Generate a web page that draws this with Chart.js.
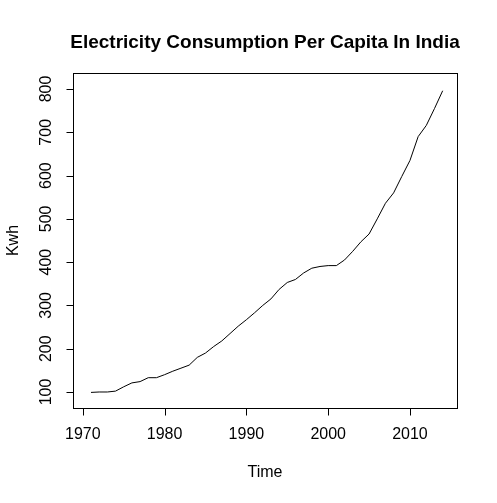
<!DOCTYPE html>
<html>
<head>
<meta charset="utf-8">
<script src="https://cdn.jsdelivr.net/npm/chart.js@4"></script>
<style>
  html, body { margin: 0; padding: 0; background: #fff; }
  #wrap { width: 497px; height: 503px; }
</style>
</head>
<body>
<div id="wrap"><canvas id="chart"></canvas></div>
<script>
const years = [1971,1972,1973,1974,1975,1976,1977,1978,1979,1980,1981,1982,1983,1984,1985,1986,1987,1988,1989,1990,1991,1992,1993,1994,1995,1996,1997,1998,1999,2000,2001,2002,2003,2004,2005,2006,2007,2008,2009,2010,2011,2012,2013,2014];
const kwh = [99,100,100,102,112,121,124,133,133,140,148,155,162,180,190,205,218,235,252,267,283,300,315,337,353,360,375,386,390,392,392,405,425,447,465,500,536,560,598,635,690,716,755,796];
const xTicks = [1970, 1980, 1990, 2000, 2010];
const yTicks = [100, 200, 300, 400, 500, 600, 700, 800];

const font = '"Liberation Sans", Arial, sans-serif';

const rAxes = {
    id: 'rAxes',
    afterDraw(chart) {
        const { ctx, chartArea: a, scales: { x, y } } = chart;
        ctx.save();
        ctx.strokeStyle = '#000';
        ctx.lineWidth = 1;
        ctx.strokeRect(a.left + 0.5, a.top + 0.5, a.right - a.left, a.bottom - a.top);
        ctx.fillStyle = '#000';
        ctx.font = '16px ' + font;

        // x axis
        const xb = a.bottom + 0.5;
        ctx.beginPath();
        ctx.moveTo(x.getPixelForValue(xTicks[0]), xb);
        ctx.lineTo(x.getPixelForValue(xTicks[xTicks.length - 1]), xb);
        xTicks.forEach(t => {
            const px = Math.round(x.getPixelForValue(t)) + 0.5;
            ctx.moveTo(px, xb);
            ctx.lineTo(px, xb + 7);
        });
        ctx.stroke();
        ctx.textAlign = 'center';
        ctx.textBaseline = 'top';
        xTicks.forEach(t => ctx.fillText(String(t), x.getPixelForValue(t), a.bottom + 19));

        // y axis
        const yl = a.left + 0.5;
        ctx.beginPath();
        ctx.moveTo(yl, y.getPixelForValue(yTicks[0]));
        ctx.lineTo(yl, y.getPixelForValue(yTicks[yTicks.length - 1]));
        yTicks.forEach(t => {
            const py = Math.round(y.getPixelForValue(t)) + 0.5;
            ctx.moveTo(yl, py);
            ctx.lineTo(yl - 7, py);
        });
        ctx.stroke();
        yTicks.forEach(t => {
            ctx.save();
            ctx.translate(a.left - 18, y.getPixelForValue(t));
            ctx.rotate(-Math.PI / 2);
            ctx.textAlign = 'center';
            ctx.textBaseline = 'bottom';
            ctx.fillText(String(t), 0, 0);
            ctx.restore();
        });

        // axis titles
        ctx.textAlign = 'center';
        ctx.textBaseline = 'middle';
        ctx.fillText('Time', (a.left + a.right) / 2, 473);
        ctx.save();
        ctx.translate(14, (a.top + a.bottom) / 2);
        ctx.rotate(-Math.PI / 2);
        ctx.fillText('Kwh', 0, 0);
        ctx.restore();

        // title
        ctx.font = 'bold 19px ' + font;
        ctx.fillText('Electricity Consumption Per Capita In India', (a.left + a.right) / 2, 43);
        ctx.restore();
    }
};

new Chart(document.getElementById('chart'), {
    type: 'line',
    data: {
        datasets: [{
            data: years.map((yr, i) => ({ x: yr, y: kwh[i] })),
            borderColor: '#000',
            borderWidth: 1,
            pointRadius: 0,
            tension: 0,
            fill: false,
        }],
    },
    options: {
        responsive: true,
        maintainAspectRatio: false,
        animation: false,
        devicePixelRatio: 1,
        layout: { padding: { left: 73, right: 40, top: 73, bottom: 95 } },
        scales: {
            x: { type: 'linear', display: false, min: 1968.8, max: 2015.75 },
            y: { type: 'linear', display: false, min: 63, max: 837 },
        },
        plugins: {
            legend: { display: false },
            tooltip: { enabled: false },
        },
    },
    plugins: [rAxes],
});
</script>
</body>
</html>
